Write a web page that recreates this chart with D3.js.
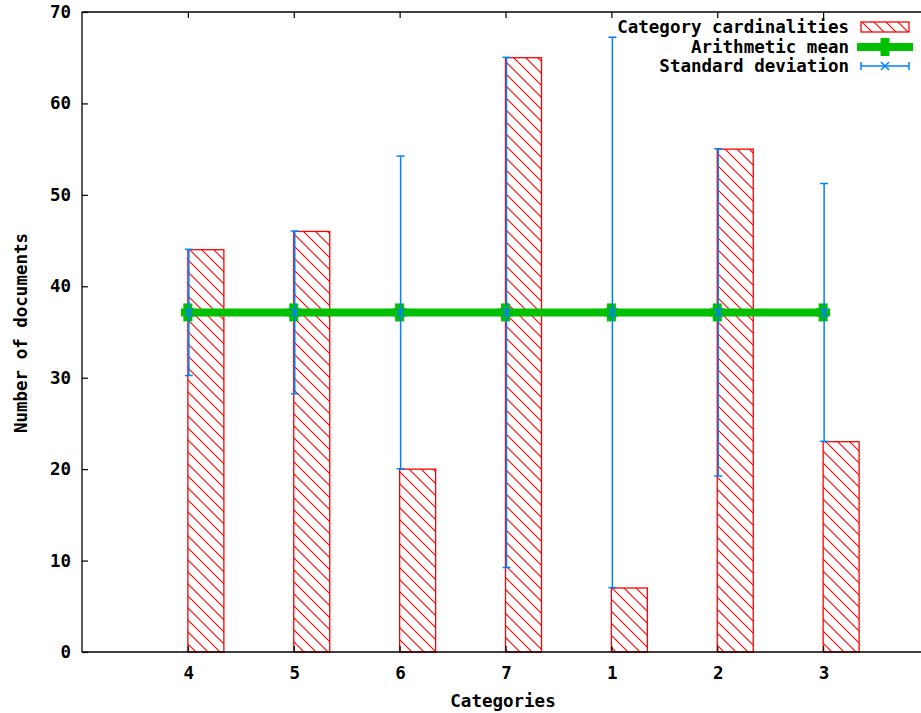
<!DOCTYPE html>
<html>
<head>
<meta charset="utf-8">
<script src="https://cdn.jsdelivr.net/npm/d3@7"></script>
<style>
html,body{margin:0;padding:0;background:#fff;overflow:hidden;}
text{font-family:"DejaVu Sans Mono","Liberation Mono",monospace;font-weight:bold;font-size:17.5px;fill:#000;}
</style>
</head>
<body>
<svg id="chart" width="921" height="713"></svg>
<script>
// ---- data ----
const categories = ["4","5","6","7","1","2","3"];
const cardinalities = [44, 46, 20, 65, 7, 55, 23];
const meanValue = 37.14;
const deviations = [6.9, 8.9, 17.1, 27.9, 30.1, 17.9, 14.1];
const yTicks = [0, 10, 20, 30, 40, 50, 60, 70];
const legendLabels = ["Category cardinalities", "Arithmetic mean", "Standard deviation"];

const RED = "#ff0000", GREEN = "#00c000", BLUE = "#0080ff";

const svg = d3.select("#chart");
const pLeft = 82, pRight = 929, pTop = 12, pBottom = 652;

const x = d3.scalePoint().domain(categories).range([pLeft, pRight]).padding(1);
const y = d3.scaleLinear().domain([0, 70]).range([pBottom, pTop]);
const barW = x.step() * 0.34;

// hatch pattern
const defs = svg.append("defs");
const pat = defs.append("pattern").attr("id", "hatch").attr("patternUnits", "userSpaceOnUse")
  .attr("width", 12).attr("height", 12);
pat.append("path").attr("d", "M-3,-3 L15,15 M-3,9 L3,15 M9,-3 L15,3")
  .attr("stroke", RED).attr("stroke-width", 1.1).attr("fill", "none");

// bars
svg.append("g").selectAll("rect").data(categories).join("rect")
  .attr("x", d => x(d))
  .attr("y", (d, i) => y(cardinalities[i]))
  .attr("width", barW)
  .attr("height", (d, i) => pBottom - y(cardinalities[i]))
  .attr("fill", "url(#hatch)")
  .attr("stroke", RED).attr("stroke-width", 1.3);

// frame
const frame = svg.append("g").attr("stroke", "#000").attr("stroke-width", 1.3).attr("fill", "none");
frame.append("line").attr("x1", pLeft).attr("x2", 921).attr("y1", pTop).attr("y2", pTop);
frame.append("line").attr("x1", pLeft).attr("x2", 921).attr("y1", pBottom).attr("y2", pBottom);
frame.append("line").attr("x1", pLeft).attr("x2", pLeft).attr("y1", pTop).attr("y2", pBottom);

// y axis
const yAxis = svg.append("g").attr("transform", `translate(${pLeft},0)`)
  .call(d3.axisRight(y).tickValues(yTicks).tickSize(6).tickFormat(""));
yAxis.select(".domain").remove();
yAxis.selectAll("line").attr("stroke", "#000").attr("stroke-width", 1.2);
svg.append("g").selectAll("text").data(yTicks).join("text")
  .attr("x", 71).attr("y", d => y(d) + 6).attr("text-anchor", "end").text(d => d);

// x axis ticks (bottom & top, inward)
const xAxisB = svg.append("g").attr("transform", `translate(0,${pBottom})`)
  .call(d3.axisTop(x).tickSize(6).tickFormat(""));
xAxisB.select(".domain").remove();
xAxisB.selectAll("line").attr("stroke", "#000").attr("stroke-width", 1.2);
const xAxisT = svg.append("g").attr("transform", `translate(0,${pTop})`)
  .call(d3.axisBottom(x).tickSize(6).tickFormat(""));
xAxisT.select(".domain").remove();
xAxisT.selectAll("line").attr("stroke", "#000").attr("stroke-width", 1.2);
svg.append("g").selectAll("text").data(categories).join("text")
  .attr("x", d => x(d) + 1).attr("y", 679).attr("text-anchor", "middle").text(d => d);

// axis titles
svg.append("text").attr("x", 503).attr("y", 707).attr("text-anchor", "middle").text("Categories");
svg.append("text").attr("transform", "translate(27,333) rotate(-90)").attr("text-anchor", "middle").text("Number of documents");

// mean line
const first = categories[0], last = categories[categories.length - 1];
svg.append("line").attr("x1", x(first)).attr("x2", x(last))
  .attr("y1", y(meanValue)).attr("y2", y(meanValue))
  .attr("stroke", GREEN).attr("stroke-width", 8);

function plusMark(g, cx, cy) {
  g.append("line").attr("x1", cx - 7).attr("x2", cx + 7).attr("y1", cy).attr("y2", cy)
    .attr("stroke", GREEN).attr("stroke-width", 8);
  g.append("line").attr("x1", cx).attr("x2", cx).attr("y1", cy - 9).attr("y2", cy + 9)
    .attr("stroke", GREEN).attr("stroke-width", 9);
}
const marks = svg.append("g");
categories.forEach(c => plusMark(marks, x(c), y(meanValue)));

// error bars
const eb = svg.append("g").attr("stroke", BLUE).attr("stroke-width", 1.5).attr("fill", "none");
categories.forEach((c, i) => {
  const cx = x(c) + 1;
  const lo = y(meanValue - deviations[i]), hi = y(meanValue + deviations[i]);
  eb.append("line").attr("x1", cx).attr("x2", cx).attr("y1", lo).attr("y2", hi);
  eb.append("line").attr("x1", cx - 4).attr("x2", cx + 4).attr("y1", lo).attr("y2", lo);
  eb.append("line").attr("x1", cx - 4).attr("x2", cx + 4).attr("y1", hi).attr("y2", hi);
  const m = y(meanValue);
  eb.append("path").attr("d", `M${cx-4},${m-4}L${cx+4},${m+4}M${cx-4},${m+4}L${cx+4},${m-4}`);
});

// legend
const legY = [27, 47, 66];
const leg = svg.append("g");
legendLabels.forEach((t, i) => {
  leg.append("text").attr("x", 849).attr("y", legY[i] + 6).attr("text-anchor", "end").text(t);
});
leg.append("rect").attr("x", 861).attr("y", 22).attr("width", 48).attr("height", 10)
  .attr("fill", "url(#hatch)").attr("stroke", RED).attr("stroke-width", 1.3);
leg.append("line").attr("x1", 857).attr("x2", 913).attr("y1", legY[1]).attr("y2", legY[1])
  .attr("stroke", GREEN).attr("stroke-width", 8);
leg.append("line").attr("x1", 885).attr("x2", 885).attr("y1", legY[1] - 9).attr("y2", legY[1] + 9)
  .attr("stroke", GREEN).attr("stroke-width", 9);
const lb = leg.append("g").attr("stroke", BLUE).attr("stroke-width", 1.5).attr("fill", "none");
lb.append("line").attr("x1", 861).attr("x2", 909).attr("y1", legY[2]).attr("y2", legY[2]);
lb.append("line").attr("x1", 861).attr("x2", 861).attr("y1", legY[2] - 4).attr("y2", legY[2] + 4);
lb.append("line").attr("x1", 909).attr("x2", 909).attr("y1", legY[2] - 4).attr("y2", legY[2] + 4);
lb.append("path").attr("d", `M881,${legY[2]-4}L889,${legY[2]+4}M881,${legY[2]+4}L889,${legY[2]-4}`);
</script>
</body>
</html>
